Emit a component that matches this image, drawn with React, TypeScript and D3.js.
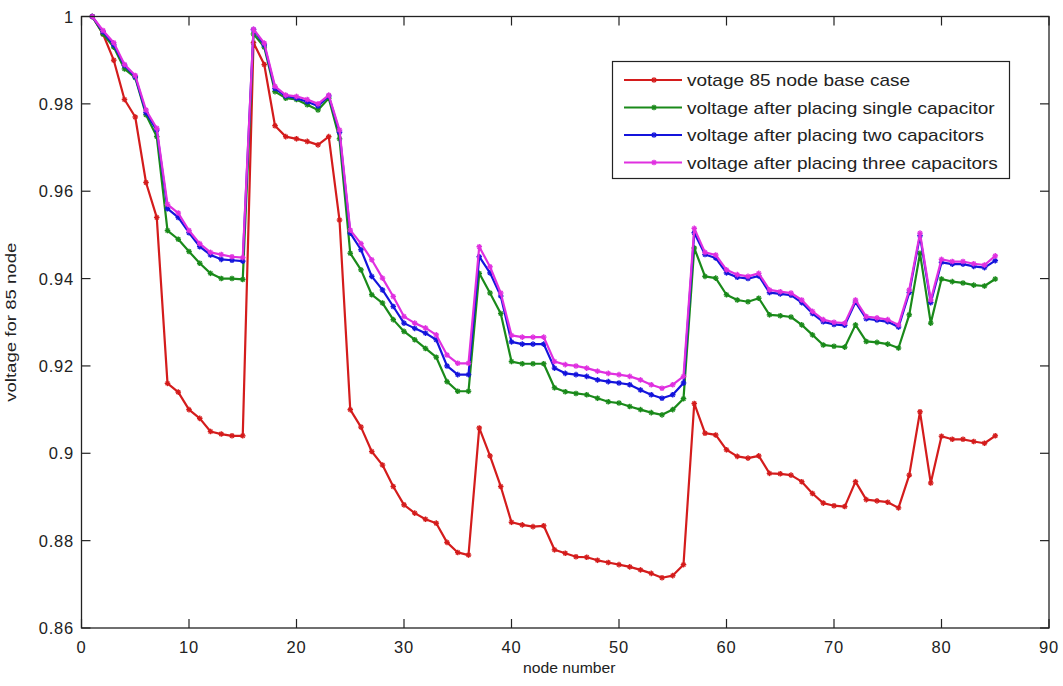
import React from "react";
import * as d3 from "d3";

const nodes: number[] = Array.from({ length: 85 }, (_, i) => i + 1);

const baseCase: number[] = [
  1.0, 0.996, 0.99, 0.981, 0.977, 0.962, 0.954, 0.916, 0.914, 0.91,
  0.908, 0.905, 0.9044, 0.904, 0.904, 0.994, 0.989, 0.975, 0.9725, 0.972,
  0.9714, 0.9706, 0.9725, 0.9534, 0.91, 0.906, 0.9004, 0.8973, 0.8924, 0.8882,
  0.8863, 0.8849, 0.884, 0.8796, 0.8773, 0.8767, 0.9058, 0.8994, 0.8924, 0.8842,
  0.8836, 0.8832, 0.8834, 0.8779, 0.8771, 0.8763, 0.8762, 0.8755, 0.875, 0.8745,
  0.874, 0.8733, 0.8725, 0.8715, 0.872, 0.8745, 0.9114, 0.9046, 0.9042, 0.9008,
  0.8993, 0.8989, 0.8994, 0.8954, 0.8953, 0.895, 0.8935, 0.8908, 0.8886, 0.888,
  0.8878, 0.8935, 0.8894, 0.8891, 0.8888, 0.8875, 0.895, 0.9095, 0.8932, 0.9039,
  0.9032, 0.9032, 0.9027, 0.9023, 0.904,
];

const singleCap: number[] = [
  1.0, 0.996, 0.993, 0.988, 0.986, 0.9775, 0.9725, 0.951, 0.949, 0.9462,
  0.9435, 0.9412, 0.94, 0.94, 0.9398, 0.996, 0.993, 0.9828, 0.9813, 0.981,
  0.9798, 0.9786, 0.9813, 0.972, 0.9458, 0.942, 0.9363, 0.9344, 0.9306, 0.9279,
  0.926, 0.924, 0.922, 0.9164, 0.9142, 0.9142, 0.9412, 0.9367, 0.932, 0.921,
  0.9205, 0.9205, 0.9205, 0.915, 0.9141, 0.9137, 0.9134, 0.9126, 0.9118, 0.9115,
  0.9107, 0.91, 0.9093, 0.9088, 0.91, 0.9125, 0.947, 0.9405, 0.9401, 0.9363,
  0.9351, 0.9347, 0.9355, 0.9317, 0.9315, 0.9312, 0.9294, 0.9271, 0.9248, 0.9245,
  0.9243, 0.9294, 0.9256, 0.9254, 0.925, 0.9241, 0.9317, 0.9458, 0.9298, 0.9399,
  0.9393, 0.939, 0.9385, 0.9383, 0.9399,
];

const twoCaps: number[] = [
  1.0, 0.9965, 0.9935, 0.9888, 0.9862, 0.978, 0.974, 0.956, 0.954, 0.9505,
  0.9473, 0.9454, 0.9444, 0.9442, 0.944, 0.997, 0.9935, 0.9835, 0.9818, 0.9813,
  0.9805, 0.9795, 0.9818, 0.9735, 0.9504, 0.9466, 0.9405, 0.9374, 0.9336, 0.9298,
  0.9286, 0.9275, 0.926, 0.92, 0.918, 0.918, 0.945, 0.9413, 0.936, 0.9255,
  0.925, 0.925, 0.925, 0.9195, 0.9183, 0.918, 0.9176, 0.9168, 0.9164, 0.9161,
  0.9157, 0.9145, 0.9134, 0.9126, 0.9134, 0.9161, 0.9505, 0.9455, 0.9447, 0.9413,
  0.9403, 0.94, 0.9406, 0.9368, 0.9365, 0.9362, 0.9345, 0.932, 0.9301, 0.9295,
  0.9293, 0.9346, 0.9308, 0.9305, 0.9301, 0.9289, 0.9368, 0.9498, 0.9345, 0.9437,
  0.9433, 0.9433, 0.9428, 0.9425, 0.9441,
];

const threeCaps: number[] = [
  1.0, 0.9968, 0.994, 0.989, 0.9865, 0.9786, 0.9744, 0.957, 0.955, 0.951,
  0.948, 0.946, 0.9455, 0.945, 0.9448, 0.9971, 0.9939, 0.984, 0.982, 0.9817,
  0.981, 0.98, 0.982, 0.974, 0.9511, 0.948, 0.9443, 0.9401, 0.9359, 0.9313,
  0.9298, 0.9287, 0.9271, 0.9225, 0.9206, 0.9206, 0.9473, 0.9427, 0.9367, 0.927,
  0.9266, 0.9266, 0.9266, 0.921, 0.9203, 0.92, 0.9195, 0.9188, 0.9183, 0.918,
  0.9176, 0.9168, 0.9157, 0.9149, 0.9157, 0.9176, 0.9515, 0.946, 0.9454, 0.942,
  0.9409, 0.9405, 0.9412, 0.9374, 0.937, 0.9367, 0.9351, 0.9325, 0.9306, 0.93,
  0.9298, 0.9351, 0.9313, 0.931, 0.9306, 0.9294, 0.9374, 0.9504, 0.9351, 0.9444,
  0.9439, 0.9439, 0.9434, 0.9431, 0.9452,
];

const seriesNames: string[] = [
  "votage 85 node base case",
  "voltage after placing single capacitor",
  "voltage after placing two capacitors",
  "voltage after placing three capacitors",
];
const seriesColors: string[] = ["#d41c1c", "#1a8a1a", "#1414dc", "#e030e0"];
const seriesValues: number[][] = [baseCase, singleCap, twoCaps, threeCaps];

const xTicks: number[] = [0, 10, 20, 30, 40, 50, 60, 70, 80, 90];
const yTicks: number[] = [0.86, 0.88, 0.9, 0.92, 0.94, 0.96, 0.98, 1];
const yTickLabels: string[] = ["0.86", "0.88", "0.9", "0.92", "0.94", "0.96", "0.98", "1"];
const xLabel = "node number";
const yLabel = "voltage for 85 node";

const W = 1063;
const H = 686;
const left = 81.5;
const right = 1049;
const top = 16.5;
const bottom = 628;
const FONT = "'Liberation Sans', Arial, sans-serif";

function Marker({ x, y, color }: { x: number; y: number; color: string }) {
  const r = 2.8;
  return (
    <g stroke={color} strokeWidth={1.4}>
      <line x1={x - r} y1={y} x2={x + r} y2={y} />
      <line x1={x} y1={y - r} x2={x} y2={y + r} />
      <line x1={x - r * 0.7} y1={y - r * 0.7} x2={x + r * 0.7} y2={y + r * 0.7} />
      <line x1={x - r * 0.7} y1={y + r * 0.7} x2={x + r * 0.7} y2={y - r * 0.7} />
    </g>
  );
}

export default function App() {
  const x = d3.scaleLinear().domain([0, 90]).range([left, right]);
  const y = d3.scaleLinear().domain([0.86, 1]).range([bottom, top]);
  const line = d3
    .line<number>()
    .x((_, i) => x(nodes[i]))
    .y((d) => y(d));
  const tick = 9;

  const legX = 612.5;
  const legY = 61.5;
  const legW = 397;
  const legH = 117;
  const rowY = [80, 107.5, 135, 162.5];

  return (
    <svg
      width={W}
      height={H}
      style={{ position: "absolute", left: 0, top: 0, background: "#fff" }}
      fontFamily={FONT}
    >
      <rect x={0} y={0} width={W} height={H} fill="#fff" />
      {seriesValues.map((vals, si) => (
        <g key={si}>
          <path d={line(vals) || ""} fill="none" stroke={seriesColors[si]} strokeWidth={2.2} strokeLinejoin="round" />
          {vals.map((v, i) => (
            <Marker key={i} x={x(nodes[i])} y={y(v)} color={seriesColors[si]} />
          ))}
        </g>
      ))}
      <rect x={left} y={top} width={right - left} height={bottom - top} fill="none" stroke="#222" strokeWidth={1.3} />
      {xTicks.map((t) => (
        <g key={"x" + t}>
          <line x1={x(t)} x2={x(t)} y1={bottom} y2={bottom - tick} stroke="#222" strokeWidth={1.2} />
          <line x1={x(t)} x2={x(t)} y1={top} y2={top + tick} stroke="#222" strokeWidth={1.2} />
          <text x={x(t)} y={653} textAnchor="middle" fontSize={16.5} fill="#222" letterSpacing={0.8}>
            {String(t)}
          </text>
        </g>
      ))}
      {yTicks.map((t, i) => (
        <g key={"y" + t}>
          <line x1={left} x2={left + tick} y1={y(t)} y2={y(t)} stroke="#222" strokeWidth={1.2} />
          <line x1={right} x2={right - tick} y1={y(t)} y2={y(t)} stroke="#222" strokeWidth={1.2} />
          <text x={74} y={y(t) + 6} textAnchor="end" fontSize={16.5} fill="#222" letterSpacing={0.8}>
            {yTickLabels[i]}
          </text>
        </g>
      ))}
      <text
        transform={`translate(${(left + right) / 2 + 4}, 673) scale(1.05, 1)`}
        textAnchor="middle"
        fontSize={15}
        fill="#222"
      >
        {xLabel}
      </text>
      <text
        transform={`translate(16, ${(top + bottom) / 2}) rotate(-90) scale(1.2, 1)`}
        textAnchor="middle"
        fontSize={15.5}
        fill="#222"
      >
        {yLabel}
      </text>
      <rect x={legX} y={legY} width={legW} height={legH} fill="#fff" stroke="#222" strokeWidth={1.2} />
      {seriesNames.map((name, i) => (
        <g key={"l" + i}>
          <line x1={624} x2={682} y1={rowY[i]} y2={rowY[i]} stroke={seriesColors[i]} strokeWidth={2.2} />
          <Marker x={654} y={rowY[i]} color={seriesColors[i]} />
          <text transform={`translate(687, ${rowY[i] + 6}) scale(1.12, 1)`} fontSize={17} fill="#222">
            {name}
          </text>
        </g>
      ))}
    </svg>
  );
}
